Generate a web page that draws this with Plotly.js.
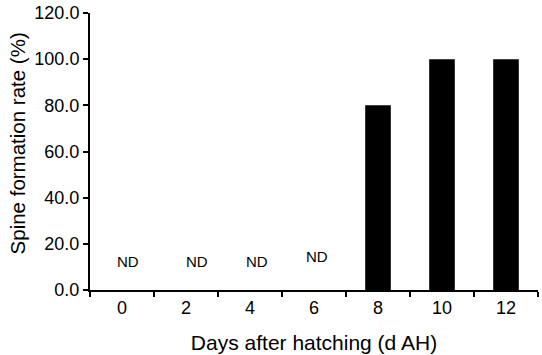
<!DOCTYPE html>
<html>
<head>
<meta charset="utf-8">
<script src="https://cdn.plot.ly/plotly-3.0.1.min.js"></script>
<style>html,body{margin:0;padding:0;background:#fff;}#chart{width:542px;height:355px;}</style>
</head>
<body>
<div id="chart"></div>
<script>
var days = ["0", "2", "4", "6", "8", "10", "12"];
var spineRate = [0, 0, 0, 0, 80, 100, 100];
var ndDays = ["0", "2", "4", "6"];
var ndLabels = ["ND", "ND", "ND", "ND"];
var ndY = [12.3, 12.3, 12.3, 14.5];
var yTicks = [0, 20, 40, 60, 80, 100, 120];
var yTickText = ["0.0", "20.0", "40.0", "60.0", "80.0", "100.0", "120.0"];
var xTitle = "Days after hatching (d AH)";
var yTitle = "Spine formation rate (%)";

var font = "Liberation Sans, Arial, sans-serif";
var ndShift = [6, 11, 7, 3];
var annotations = ndDays.map(function (d, i) {
  return {
    x: days.indexOf(d), y: ndY[i], xref: "x", yref: "y", text: ndLabels[i],
    showarrow: false, xshift: ndShift[i],
    font: {family: font, size: 15, color: "#000"}
  };
});
annotations.push({
  x: -0.163, y: 0.529, xref: "paper", yref: "paper", text: yTitle,
  textangle: -90, showarrow: false, xanchor: "center", yanchor: "middle",
  font: {family: font, size: 20.5, color: "#000"}
});

var trace = {
  type: "bar", x: days, y: spineRate, width: 0.4,
  marker: {color: "#000", line: {width: 0}}, hoverinfo: "none"
};

var layout = {
  width: 542, height: 355,
  margin: {l: 90, r: 4, t: 12.5, b: 64.5},
  paper_bgcolor: "#fff", plot_bgcolor: "#fff",
  showlegend: false,
  xaxis: {
    type: "category", range: [-0.5, 6.5],
    showline: true, linecolor: "#000", linewidth: 2,
    ticks: "outside", tickson: "boundaries", ticklen: 5, tickwidth: 2, tickcolor: "#000",
    showgrid: false, zeroline: false,
    tickfont: {family: font, size: 18, color: "#000"},
    title: {text: xTitle, font: {family: font, size: 21, color: "#000"}, standoff: 19}
  },
  yaxis: {
    range: [0, 120], tickvals: yTicks, ticktext: yTickText,
    showline: true, linecolor: "#000", linewidth: 2,
    ticks: "outside", ticklen: 5, tickwidth: 2, tickcolor: "#000",
    showgrid: false, zeroline: false,
    tickfont: {family: font, size: 18, color: "#000"}
  },
  annotations: annotations
};

Plotly.newPlot("chart", [trace], layout, {staticPlot: true, displayModeBar: false});
</script>
</body>
</html>
